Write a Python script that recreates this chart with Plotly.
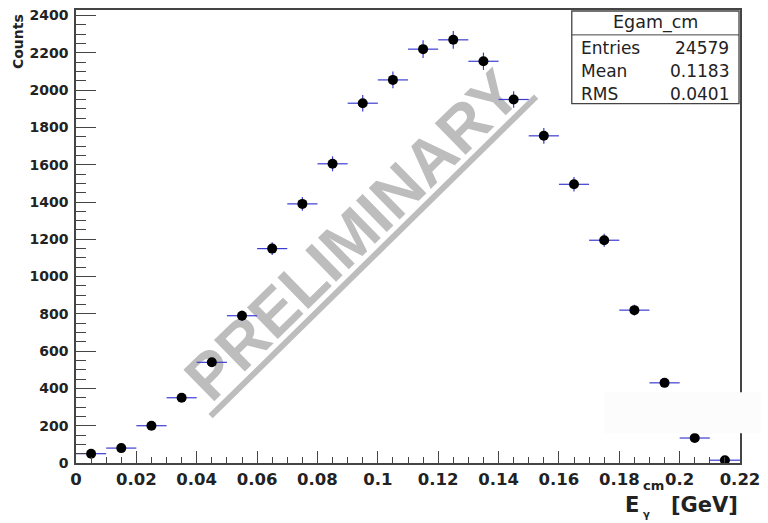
import plotly.graph_objects as go
import numpy as np

# Photon energy in the CM frame, 0.01 GeV bins
bin_centers = [0.005, 0.015, 0.025, 0.035, 0.045, 0.055, 0.065, 0.075, 0.085, 0.095, 0.105,
               0.115, 0.125, 0.135, 0.145, 0.155, 0.165, 0.175, 0.185, 0.195, 0.205, 0.215]
counts = [50, 80, 200, 350, 540, 790, 1150, 1390, 1605, 1930, 2055,
          2220, 2270, 2155, 1950, 1755, 1495, 1195, 820, 430, 134, 15]
bin_half_width = 0.005

hist_name = "Egam_cm"
stat_labels = ["Entries", "Mean", "RMS"]
stat_values = [str(sum(counts)), "0.1183", "0.0401"]

W, H = 768, 523
L, R, T, B = 76, 21, 8, 60
PW, PH = W - L - R, H - T - B

def px(x):
    return (x - L) / PW

def py(y):
    return (H - B - y) / PH

FONT = "DejaVu Sans"
DARK = "#222222"
AX = "#444444"
WM = "#bdbdbd"

fig = go.Figure()
fig.add_trace(go.Scatter(
    x=bin_centers, y=counts, mode="markers",
    marker=dict(color="black", size=10, symbol="circle"),
    error_x=dict(type="constant", value=bin_half_width, color="#3c3cd2", thickness=1.2, width=0),
    error_y=dict(type="data", array=list(np.sqrt(counts)), color="#3c3cd2", thickness=1.2, width=0),
    showlegend=False,
))

shapes = []
annotations = []

# watermark text sitting on a thick underline, both drawn beneath the data
ul0, ul1 = (212, 416), (541, 95)
off = 0
shapes.append(dict(type="line", xref="paper", yref="paper", layer="below",
                   x0=px(ul0[0] + off), y0=py(ul0[1] + off), x1=px(ul1[0] + off), y1=py(ul1[1] + off),
                   line=dict(color="rgba(0,0,0,0)", width=0),
                   label=dict(text="<b>PRELIMINARY</b>", textposition="middle", yanchor="bottom",
                              padding=0, font=dict(family="Liberation Sans", size=64, color=WM))))
shapes.append(dict(type="line", xref="paper", yref="paper", layer="below",
                   x0=px(ul0[0]), y0=py(ul0[1]), x1=px(ul1[0]), y1=py(ul1[1]),
                   line=dict(color=WM, width=6)))

# stats box
shapes.append(dict(type="rect", xref="paper", yref="paper",
                   x0=px(577), y0=py(102), x1=px(746), y1=py(9),
                   fillcolor="white", line=dict(color=AX, width=1.3)))
shapes.append(dict(type="line", xref="paper", yref="paper",
                   x0=px(577), y0=py(33), x1=px(746), y1=py(33),
                   line=dict(color=AX, width=1)))
annotations.append(dict(xref="paper", yref="paper", x=px(662), y=py(21), text=hist_name,
                        showarrow=False, xanchor="center", yanchor="middle",
                        font=dict(family=FONT, size=17.5, color=DARK)))
for i, (lab, val) in enumerate(zip(stat_labels, stat_values)):
    yy = py(46 + 23 * i)
    annotations.append(dict(xref="paper", yref="paper", x=px(584), y=yy, text=lab,
                            showarrow=False, xanchor="left", yanchor="middle",
                            font=dict(family=FONT, size=17, color=DARK)))
    annotations.append(dict(xref="paper", yref="paper", x=px(738), y=yy, text=val,
                            showarrow=False, xanchor="right", yanchor="middle",
                            font=dict(family=FONT, size=17, color=DARK)))

# faint patch at lower right
shapes.append(dict(type="rect", xref="paper", yref="paper",
                   x0=px(610), y0=py(433), x1=px(768), y1=py(392),
                   fillcolor="#fcfcfc", line=dict(width=0)))

# axis titles
annotations.append(dict(xref="paper", yref="paper", x=px(18), y=py(10), text="<b>Counts</b>",
                        textangle=-90, showarrow=False, xanchor="center", yanchor="top",
                        font=dict(family=FONT, size=14, color=DARK)))
annotations.append(dict(xref="paper", yref="paper", x=px(629), y=py(505), text="<b>E</b>",
                        showarrow=False, xanchor="left", yanchor="middle",
                        font=dict(family=FONT, size=21, color=DARK)))
annotations.append(dict(xref="paper", yref="paper", x=px(647), y=py(486), text="<b>cm</b>",
                        showarrow=False, xanchor="left", yanchor="middle",
                        font=dict(family=FONT, size=13, color=DARK)))
annotations.append(dict(xref="paper", yref="paper", x=px(647), y=py(515), text="<b>γ</b>",
                        showarrow=False, xanchor="left", yanchor="middle",
                        font=dict(family=FONT, size=10, color=DARK)))
annotations.append(dict(xref="paper", yref="paper", x=px(747), y=py(505), text="<b>[GeV]</b>",
                        showarrow=False, xanchor="right", yanchor="middle",
                        font=dict(family=FONT, size=21, color=DARK)))

fig.update_layout(
    width=W, height=H,
    margin=dict(l=L, r=R, t=T, b=B, pad=0),
    paper_bgcolor="white", plot_bgcolor="white",
    shapes=shapes, annotations=annotations,
    xaxis=dict(range=[0, 0.22], dtick=0.02, tick0=0, ticks="inside", ticklen=12, tickwidth=1,
               tickcolor=AX, showgrid=False, zeroline=False,
               showline=True, linecolor=AX, linewidth=1.5, mirror=True,
               tickformat="~g",
               tickfont=dict(family=FONT, size=16.5, color=DARK, weight="bold"),
               minor=dict(dtick=0.005, ticks="inside", ticklen=6, tickcolor=AX, showgrid=False)),
    yaxis=dict(range=[0, 2430], dtick=200, tick0=0, ticks="inside", ticklen=20, tickwidth=1,
               tickcolor=AX, showgrid=False, zeroline=False,
               showline=True, linecolor=AX, linewidth=1.5, mirror=True,
               tickfont=dict(family=FONT, size=14, color=DARK, weight="bold"),
               ticklabelstandoff=3,
               minor=dict(dtick=50, ticks="inside", ticklen=10, tickcolor=AX, showgrid=False)),
)

fig.write_html("out.html")
